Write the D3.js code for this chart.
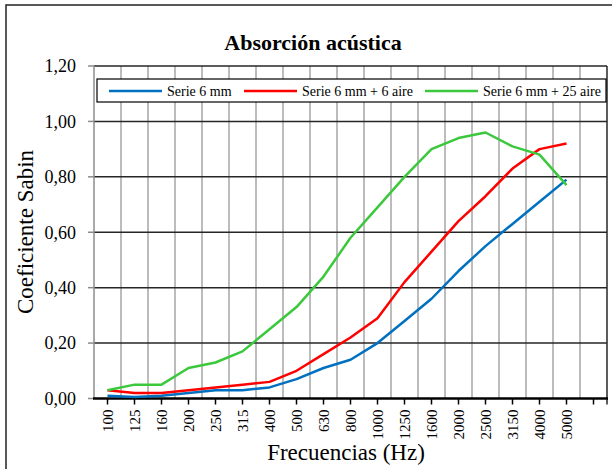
<!DOCTYPE html>
<html>
<head>
<meta charset="utf-8">
<script src="https://cdn.jsdelivr.net/npm/d3@7"></script>
<style>
  body { margin: 0; background: #fff; }
  text { font-family: "Liberation Serif", "DejaVu Serif", serif; fill: #000; }
</style>
</head>
<body>
<div id="chart"></div>
<script>
// data
const freqs = ["100", "125", "160", "200", "250", "315", "400", "500", "630", "800",
               "1000", "1250", "1600", "2000", "2500", "3150", "4000", "5000"];
const serie6 = [0.01, 0.005, 0.01, 0.02, 0.03, 0.03, 0.04, 0.07, 0.11, 0.14,
                0.20, 0.28, 0.36, 0.46, 0.55, 0.63, 0.71, 0.79];
const serie6aire6 = [0.03, 0.02, 0.02, 0.03, 0.04, 0.05, 0.06, 0.10, 0.16, 0.22,
                     0.29, 0.42, 0.53, 0.64, 0.73, 0.83, 0.90, 0.92];
const serie6aire25 = [0.03, 0.05, 0.05, 0.11, 0.13, 0.17, 0.25, 0.33, 0.44, 0.58,
                      0.69, 0.80, 0.90, 0.94, 0.96, 0.91, 0.88, 0.77];
const seriesNames = ["Serie 6 mm", "Serie 6 mm + 6 aire", "Serie 6 mm + 25 aire"];
const yTicks = [0, 0.2, 0.4, 0.6, 0.8, 1.0, 1.2];

const colors = ["#0070c0", "#ff0000", "#3cc83c"];
const series = [serie6, serie6aire6, serie6aire25];

const W = 612, H = 469;
const plot = {left: 94, right: 607, top: 66, bottom: 398.5};

const svg = d3.select("#chart").append("svg")
    .attr("width", W)
    .attr("height", H);

// outer chart border (runs off the right/bottom edge like the reference)
svg.append("rect")
    .attr("x", 6).attr("y", 5)
    .attr("width", 630).attr("height", 490)
    .attr("fill", "#fff")
    .attr("stroke", "#222")
    .attr("stroke-width", 1.5);

// one empty slot after 5000
const xCats = freqs.concat([" "]);
const x = d3.scaleBand()
    .domain(xCats)
    .range([plot.left, plot.right])
    .padding(0);

const y = d3.scaleLinear()
    .domain([0, 1.2])
    .range([plot.bottom, plot.top]);

const fmt = v => d3.format(".2f")(v).replace(".", ",");

// vertical gridlines at category boundaries
svg.append("g")
  .selectAll("line")
  .data(xCats.slice(1))
  .join("line")
    .attr("x1", d => x(d)).attr("x2", d => x(d))
    .attr("y1", plot.top).attr("y2", plot.bottom)
    .attr("stroke", "#a6a6a6")
    .attr("stroke-width", 1.5);

// horizontal gridlines
svg.append("g")
  .selectAll("line")
  .data(yTicks.slice(1))
  .join("line")
    .attr("x1", plot.left).attr("x2", plot.right)
    .attr("y1", d => y(d)).attr("y2", d => y(d))
    .attr("stroke", "#262626")
    .attr("stroke-width", 1.5);

// left axis
svg.append("line")
    .attr("x1", plot.left).attr("x2", plot.left)
    .attr("y1", plot.top).attr("y2", plot.bottom)
    .attr("stroke", "#8c8c8c").attr("stroke-width", 1.5);
// right border
svg.append("line")
    .attr("x1", plot.right).attr("x2", plot.right)
    .attr("y1", plot.top).attr("y2", plot.bottom + 6)
    .attr("stroke", "#262626").attr("stroke-width", 1.5);

// y ticks + labels
const yAx = svg.append("g");
yAx.selectAll("line")
  .data(yTicks)
  .join("line")
    .attr("x1", plot.left - 6).attr("x2", plot.left)
    .attr("y1", d => y(d)).attr("y2", d => y(d))
    .attr("stroke", "#8c8c8c").attr("stroke-width", 1.5);
yAx.selectAll("text")
  .data(yTicks)
  .join("text")
    .attr("x", plot.left - 18)
    .attr("y", d => y(d))
    .attr("dy", "0.35em")
    .attr("text-anchor", "end")
    .style("font-size", "18px")
    .text(fmt);

// bottom axis
svg.append("line")
    .attr("x1", plot.left - 1).attr("x2", plot.right + 1)
    .attr("y1", plot.bottom).attr("y2", plot.bottom)
    .attr("stroke", "#000").attr("stroke-width", 2.5);
const xAx = svg.append("g");
xAx.selectAll("line")
  .data(xCats)
  .join("line")
    .attr("x1", d => x(d) + x.bandwidth() / 2).attr("x2", d => x(d) + x.bandwidth() / 2)
    .attr("y1", plot.bottom).attr("y2", plot.bottom + 6)
    .attr("stroke", "#000").attr("stroke-width", 1.5);
xAx.selectAll("text")
  .data(freqs)
  .join("text")
    .attr("transform", d => `translate(${x(d) + x.bandwidth() / 2 + 5},${plot.bottom + 11}) rotate(-90)`)
    .attr("text-anchor", "end")
    .style("font-size", "15px")
    .text(d => d);

// lines
const line = d3.line()
    .x((d, i) => x(freqs[i]) + x.bandwidth() / 2)
    .y(d => y(d));

svg.append("g")
  .selectAll("path")
  .data(series)
  .join("path")
    .attr("fill", "none")
    .attr("stroke", (d, i) => colors[i])
    .attr("stroke-width", 2.5)
    .attr("stroke-linejoin", "round")
    .attr("d", line);

// legend
const lg = svg.append("g");
lg.append("rect")
    .attr("x", 97).attr("y", 79)
    .attr("width", 509).attr("height", 23)
    .attr("fill", "#fff")
    .attr("stroke", "#000")
    .attr("stroke-width", 1.2);
const lgX = [109, 244, 425];
const item = lg.selectAll("g")
  .data(seriesNames)
  .join("g")
    .attr("transform", (d, i) => `translate(${lgX[i]},91)`);
item.append("line")
    .attr("x1", 0).attr("x2", 53)
    .attr("stroke", (d, i) => colors[i])
    .attr("stroke-width", 2.5);
item.append("text")
    .attr("x", 58)
    .attr("dy", "0.35em")
    .style("font-size", "14px")
    .text(d => d);

// title
svg.append("text")
    .attr("x", 313).attr("y", 50)
    .attr("text-anchor", "middle")
    .style("font-size", "22px")
    .style("font-weight", "bold")
    .text("Absorción acústica");

// axis titles
svg.append("text")
    .attr("transform", "translate(33,232) rotate(-90)")
    .attr("text-anchor", "middle")
    .style("font-size", "23px")
    .text("Coeficiente Sabin");

svg.append("text")
    .attr("x", 346).attr("y", 460)
    .attr("text-anchor", "middle")
    .style("font-size", "23px")
    .text("Frecuencias (Hz)");
</script>
</body>
</html>
